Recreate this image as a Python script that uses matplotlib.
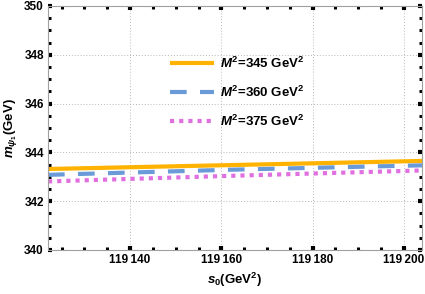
"""
Mass of psi_1 versus threshold s0 for three Borel parameters.
"""
import matplotlib
matplotlib.use('Agg')
import matplotlib.pyplot as plt
from matplotlib.ticker import MultipleLocator, FuncFormatter

plt.rcParams['font.family'] = ['Liberation Sans', 'DejaVu Sans']
plt.rcParams['font.weight'] = 'bold'
plt.rcParams['mathtext.fontset'] = 'custom'
plt.rcParams['mathtext.rm'] = 'Liberation Sans:bold'
plt.rcParams['mathtext.it'] = 'Liberation Sans:italic:bold'
plt.rcParams['mathtext.bf'] = 'Liberation Sans:bold'

# values
s0 = [119122, 119162, 119204]
m_345 = [343.32, 343.48, 343.65]
m_360 = [343.08, 343.29, 343.47]
m_375 = [342.81, 343.04, 343.26]

labels = [r'$M^2$=345 GeV$^2$', r'$M^2$=360 GeV$^2$', r'$M^2$=375 GeV$^2$']
COLORS = ['#FFB300', '#6A9BD8', '#E070E0']

fig = plt.figure(figsize=(4.25, 2.94), dpi=100)
ax = fig.add_axes([48 / 425, 1 - 250 / 294, 374 / 425, 244 / 294])

ax.plot(s0, m_345, color=COLORS[0], linewidth=3, label=labels[0], solid_capstyle='butt')
ax.plot(s0, m_360, color=COLORS[1], linewidth=3, label=labels[1],
        dashes=(4, 3.2), dash_capstyle='butt')
ax.plot(s0, m_375, color=COLORS[2], linewidth=3, label=labels[2],
        dashes=(1, 1.2), dash_capstyle='butt')

ax.set_xlim(119122, 119204)
ax.set_ylim(340, 350)

ax.xaxis.set_major_locator(MultipleLocator(20))
ax.xaxis.set_minor_locator(MultipleLocator(5))
ax.yaxis.set_major_locator(MultipleLocator(2))
ax.yaxis.set_minor_locator(MultipleLocator(0.5))
ax.xaxis.set_major_formatter(FuncFormatter(
    lambda v, p: f'{int(v) // 1000}\u2009{int(v) % 1000:03d}'))

ax.tick_params(which='both', direction='in', color='black',
               top=True, right=True, labelsize=8.5, pad=3)
ax.tick_params(which='major', length=3, width=3)
ax.tick_params(which='minor', length=2.2, width=2.2)
for lbl in ax.get_xticklabels() + ax.get_yticklabels():
    lbl.set_fontweight('bold')

for spine in ax.spines.values():
    spine.set_color('#a0a0a0')
    spine.set_linewidth(0.8)

ax.grid(True, which='major', color='#b8b8b8', linestyle=(0, (1, 2)), linewidth=0.7)

ax.set_xlabel(r'$s_0$(GeV$^2$)', fontsize=9.5, fontweight='bold', labelpad=3)
ax.set_ylabel(r'$m_{\psi_1}$(GeV)', fontsize=9.5, fontweight='bold', labelpad=4)

leg = ax.legend(loc='upper left', bbox_to_anchor=(0.295, 0.845), frameon=False,
                fontsize=9.5, handlelength=3.3, labelspacing=1.05, handletextpad=0.5)
for t in leg.get_texts():
    t.set_fontweight('bold')

plt.savefig('out.png', dpi=100)
